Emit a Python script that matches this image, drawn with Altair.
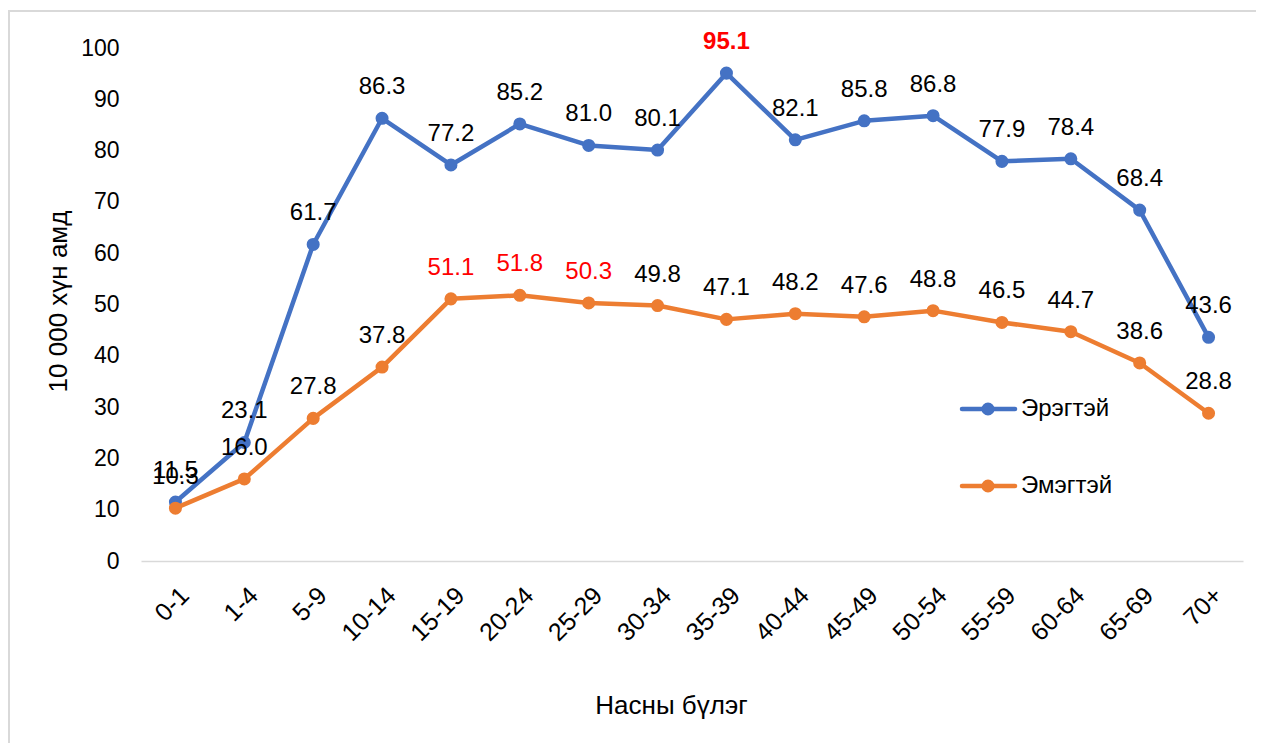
import altair as alt
import pandas as pd

ages = ["0-1", "1-4", "5-9", "10-14", "15-19", "20-24", "25-29", "30-34",
        "35-39", "40-44", "45-49", "50-54", "55-59", "60-64", "65-69", "70+"]
men = [11.5, 23.1, 61.7, 86.3, 77.2, 85.2, 81.0, 80.1, 95.1, 82.1, 85.8, 86.8, 77.9, 78.4, 68.4, 43.6]
women = [10.3, 16.0, 27.8, 37.8, 51.1, 51.8, 50.3, 49.8, 47.1, 48.2, 47.6, 48.8, 46.5, 44.7, 38.6, 28.8]
series = ["Эрэгтэй", "Эмэгтэй"]
colors = ["#4472C4", "#ED7D31"]

men_highlight = ["35-39"]
women_highlight = ["15-19", "20-24", "25-29"]

FONT = "Liberation Sans"
TICK_FS = 23
XTICK_FS = 25
LBL_FS = 24
TITLE_FS = 26
W, H = 1102, 513

df = pd.DataFrame({
    "age": ages * 2,
    "sex": [series[0]] * len(ages) + [series[1]] * len(ages),
    "value": men + women,
})

x = alt.X("age:N", sort=ages, scale=alt.Scale(padding=0.5),
          axis=alt.Axis(title="Насны бүлэг", labelAngle=-45, labelAlign="right",
                        labelBaseline="middle", labelPadding=30, labelOffset=9,
                        ticks=False, domainColor="#d9d9d9", domainWidth=1.5,
                        labelFontSize=XTICK_FS, titleFontSize=TITLE_FS, titleFontWeight="normal",
                        titleX=530, titleY=144, titleBaseline="middle", titleAnchor="start",
                        titleAlign="center", labelFont=FONT, titleFont=FONT,
                        labelColor="black", titleColor="black"))
y = alt.Y("value:Q", scale=alt.Scale(domain=[0, 100], nice=False),
          axis=alt.Axis(title="10 000 хүн амд", values=list(range(0, 101, 10)),
                        grid=False, domain=False, ticks=False, labelPadding=22,
                        labelFontSize=TICK_FS, titleFontSize=TITLE_FS, titleFontWeight="normal",
                        titleX=-83, titleY=253, titleBaseline="middle", titleAngle=-90,
                        titleAlign="center", labelFont=FONT, titleFont=FONT,
                        labelColor="black", titleColor="black"))
color = alt.Color("sex:N", scale=alt.Scale(domain=series, range=colors), legend=None)

base = alt.Chart(df)
layers = []
for s in series:
    sub = base.transform_filter(alt.datum.sex == s)
    layers.append(sub.mark_line(strokeWidth=4.5, strokeCap="round", strokeJoin="round").encode(x=x, y=y, color=color))
    layers.append(sub.mark_point(filled=True, size=170, opacity=1).encode(x=x, y=y, color=color))

# data labels
lbl = dict(font=FONT, fontSize=LBL_FS, dy=-31, baseline="middle", align="center")
m = base.transform_filter(alt.datum.sex == series[0])
w = base.transform_filter(alt.datum.sex == series[1])
hl_m = alt.FieldOneOfPredicate(field="age", oneOf=men_highlight)
hl_w = alt.FieldOneOfPredicate(field="age", oneOf=women_highlight)
layers.append(m.transform_filter({"not": hl_m}).mark_text(color="black", **lbl)
              .encode(x=x, y=y, text=alt.Text("value:Q", format=".1f")))
layers.append(m.transform_filter(hl_m).mark_text(color="#FF0000", fontWeight="bold", **lbl)
              .encode(x=x, y=y, text=alt.Text("value:Q", format=".1f")))
layers.append(w.transform_filter({"not": hl_w}).mark_text(color="black", **lbl)
              .encode(x=x, y=y, text=alt.Text("value:Q", format=".1f")))
layers.append(w.transform_filter(hl_w).mark_text(color="#FF0000", **lbl)
              .encode(x=x, y=y, text=alt.Text("value:Q", format=".1f")))

# manual legend
leg_y = [361, 438]
for s, c, ly in zip(series, colors, leg_y):
    d = alt.Chart(pd.DataFrame({"s": [s]}))
    layers.append(d.mark_rule(color=c, strokeWidth=4.5, strokeCap="round")
                  .encode(x=alt.value(821), x2=alt.value(874), y=alt.value(ly)))
    layers.append(d.mark_point(filled=True, size=170, opacity=1, color=c)
                  .encode(x=alt.value(847), y=alt.value(ly)))
    layers.append(d.mark_text(font=FONT, fontSize=LBL_FS, align="left", baseline="middle", color="black")
                  .encode(x=alt.value(880), y=alt.value(ly), text="s:N"))

# outer border
border = alt.Chart(pd.DataFrame({"b": [0]})).mark_rect(
    fill="white", fillOpacity=0, stroke="#d9d9d9", strokeWidth=2
).encode(x=alt.value(-132), x2=alt.value(1400), y=alt.value(-37), y2=alt.value(900))

chart = alt.layer(border, *layers).properties(
    width=W, height=H,
    autosize=alt.AutoSizeParams(type="none"),
    padding={"left": 133, "top": 40, "right": 13, "bottom": 182},
).configure(background="white").configure_view(stroke=None, strokeWidth=0)

chart.save("out.html", embed_options={"renderer": "svg", "actions": False})
